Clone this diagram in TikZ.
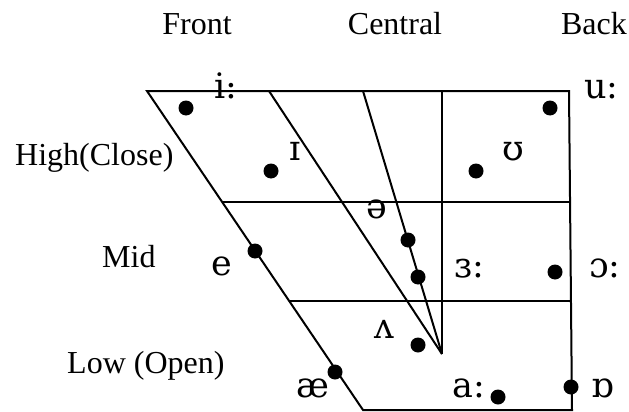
\documentclass[tikz,border=0pt]{standalone}
\usepackage{fontspec}
\setmainfont{Liberation Serif}
\newfontfamily\ipafont{DejaVu Serif}
\usetikzlibrary{positioning}

\begin{document}
\begin{tikzpicture}[x=1pt,y=-1pt,
		chart/.style={line width=2pt},
		vdot/.style={circle,fill=black,inner sep=0pt,minimum size=15pt},
		headlabel/.style={inner sep=0pt,anchor=base,font=\fontsize{32}{38}\selectfont},
		sidelabel/.style={inner sep=0pt,anchor=base west,font=\fontsize{32}{38}\selectfont},
		vowel/.style={inner sep=0pt,anchor=base west,font=\fontsize{35}{40}\ipafont}]
		\useasboundingbox (0,0) rectangle (629,412);

		% Corners of the chart
		\coordinate (tl) at (147,91);
		\coordinate (tr) at (569,91);
		\coordinate (bl) at (363,410);
		\coordinate (br) at (572,410);
		\coordinate (ml) at (222,202);
		\coordinate (mr) at (570,202);
		\coordinate (ll) at (289,301);
		\coordinate (lr) at (571,301);
		\coordinate (ct) at (442,91);
		\coordinate (cb) at (442,354);
		\coordinate (s1) at (269,91);
		\coordinate (s2) at (363,91);

		% Draw outline and grid
		\draw[chart] (tl) -- (tr) -- (br) -- (bl) -- cycle;
		\draw[chart] (ml) -- (mr);
		\draw[chart] (ll) -- (lr);
		\draw[chart] (ct) -- (cb);
		\draw[chart] (s1) -- (cb);
		\draw[chart] (s2) -- (cb);

		% Column and row labels
		\node[headlabel] (front) at (197,35) {Front};
		\node[headlabel] (central) at (395,35) {Central};
		\node[headlabel] (back) at (594,35) {Back};
		\node[sidelabel] (high) at (15,165) {High(Close)};
		\node[sidelabel] (mid) at (102,267) {Mid};
		\node[sidelabel] (low) at (67,373) {Low (Open)};

		% Vowel dots
		\node[vdot] (d-i) at (186,108) {};
		\node[vdot] (d-u) at (550,108) {};
		\node[vdot] (d-I) at (271,171) {};
		\node[vdot] (d-U) at (476,171) {};
		\node[vdot] (d-schwa) at (408,240) {};
		\node[vdot] (d-er) at (418,277) {};
		\node[vdot] (d-e) at (255,251) {};
		\node[vdot] (d-o) at (555,272) {};
		\node[vdot] (d-V) at (418,345) {};
		\node[vdot] (d-ae) at (335,372) {};
		\node[vdot] (d-a) at (498,397) {};
		\node[vdot] (d-Q) at (571,387) {};

		% Vowel symbols
		\node[vowel] (v-i) at (214,98) {i:};
		\node[vowel] (v-u) at (584,98) {u:};
		\node[vowel] (v-I) at (289,160) {ɪ};
		\node[vowel] (v-U) at (502,160) {ʊ};
		\node[vowel] (v-schwa) at (366,218) {ə};
		\node[vowel] (v-e) at (211,275) {e};
		\node[vowel] (v-er) at (454,277) {ɜ:};
		\node[vowel] (v-o) at (589,277) {ɔ:};
		\node[vowel] (v-V) at (374,338) {ʌ};
		\node[vowel] (v-ae) at (296,397) {æ};
		\node[vowel] (v-a) at (452,397) {a:};
		\node[vowel] (v-Q) at (591,397) {ɒ};
	\end{tikzpicture}
\end{document}
